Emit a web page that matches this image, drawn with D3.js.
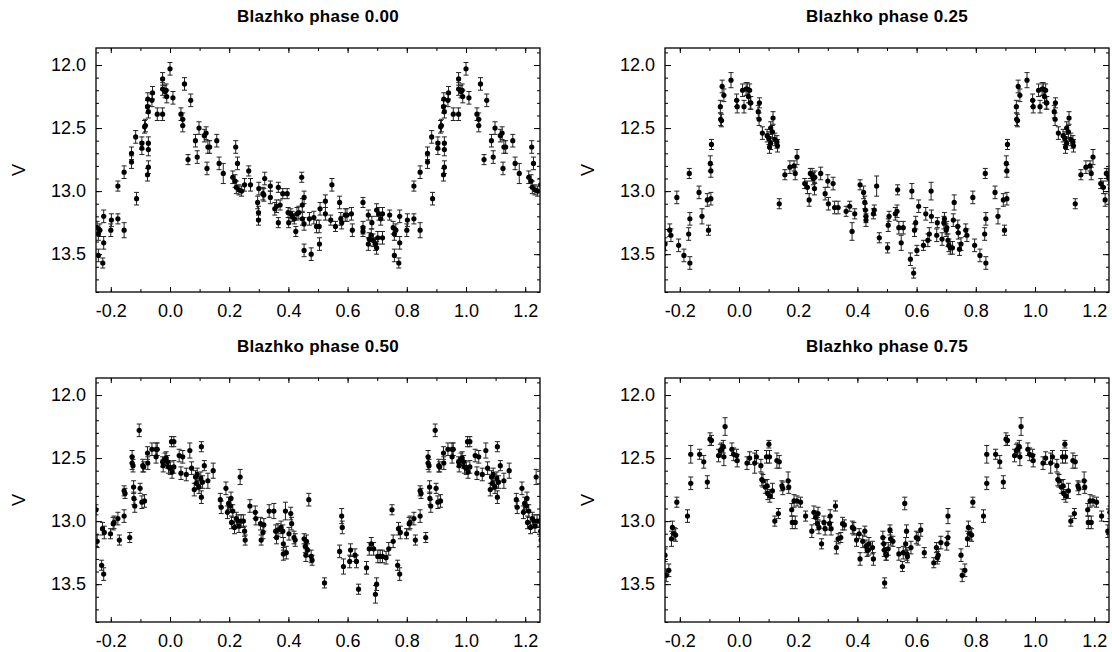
<!DOCTYPE html>
<head>
  <meta charset="utf-8">
  <script src="https://d3js.org/d3.v7.min.js"></script>
</head>
<body>
  <div id="chart"></div>

  <script>
    var width = 1112;
    var height = 652;

    // panel titles
    var titles = ['Blazhko phase 0.00', 'Blazhko phase 0.25', 'Blazhko phase 0.50', 'Blazhko phase 0.75'];

    // tick labels
    var xTicks = [-0.2, 0.0, 0.2, 0.4, 0.6, 0.8, 1.0, 1.2];
    var yTicks = [12.0, 12.5, 13.0, 13.5];

    // [pulsation phase, V, error] ; phases in 0..1, shown again shifted by one cycle
    var p000 = [
      [0.754,13.29,0.05],[0.758,13.34,0.05],[0.763,13.31,0.05],[0.758,13.51,0.05],[0.776,13.41,0.05],
      [0.773,13.57,0.04],[0.776,13.20,0.05],[0.800,13.31,0.05],[0.802,13.23,0.05],[0.824,13.22,0.04],
      [0.845,13.31,0.06],[0.824,12.96,0.04],[0.845,12.85,0.05],[0.870,12.70,0.05],[0.870,12.77,0.05],
      [0.887,13.06,0.05],[0.884,12.57,0.05],[0.905,12.62,0.05],[0.905,12.66,0.05],[0.914,12.49,0.05],
      [0.917,12.48,0.05],[0.924,12.33,0.05],[0.925,12.27,0.05],[0.927,12.37,0.05],[0.927,12.62,0.05],
      [0.927,12.67,0.05],[0.927,12.81,0.05],[0.924,12.87,0.05],[0.939,12.28,0.05],[0.941,12.22,0.05],
      [0.957,12.39,0.05],[0.975,12.11,0.05],[0.975,12.19,0.05],[0.975,12.39,0.05],[0.983,12.21,0.05],
      [0.989,12.25,0.05],[0.987,12.20,0.05],
      [0.000,12.03,0.05],[0.010,12.26,0.05],[0.037,12.39,0.05],[0.043,12.43,0.05],[0.043,12.48,0.05],
      [0.049,12.15,0.05],[0.070,12.28,0.05],[0.061,12.75,0.04],[0.086,12.60,0.05],[0.092,12.73,0.05],
      [0.098,12.50,0.05],[0.116,12.56,0.05],[0.122,12.54,0.05],[0.125,12.82,0.05],[0.128,12.65,0.05],
      [0.134,12.65,0.05],[0.158,12.60,0.05],[0.166,12.78,0.05],[0.180,12.86,0.08],[0.212,12.89,0.05],
      [0.222,12.65,0.05],[0.220,12.92,0.05],[0.228,12.78,0.05],[0.224,12.97,0.05],[0.233,12.99,0.04],
      [0.242,13.00,0.04],[0.252,12.95,0.05],[0.266,12.84,0.04],[0.272,12.95,0.05],[0.296,13.09,0.05],
      [0.299,13.17,0.05],[0.299,13.23,0.04],[0.300,12.98,0.05],[0.314,13.02,0.05],[0.320,12.90,0.05],
      [0.317,13.03,0.05],[0.339,12.96,0.04],[0.339,13.05,0.05],[0.354,13.14,0.05],[0.360,13.12,0.05],
      [0.366,12.97,0.04],[0.366,13.25,0.04],[0.372,13.11,0.04],[0.381,13.02,0.04],[0.396,13.02,0.04],
      [0.399,13.17,0.04],[0.401,13.25,0.04],[0.408,13.18,0.04],[0.413,13.20,0.04],[0.420,13.22,0.04],
      [0.425,13.32,0.04],[0.429,13.18,0.05],[0.435,13.17,0.05],[0.445,12.89,0.04],[0.447,13.11,0.05],
      [0.453,13.05,0.05],[0.453,13.47,0.05],[0.447,13.22,0.05],[0.453,13.26,0.05],[0.477,13.50,0.05],
      [0.471,13.22,0.05],[0.486,13.21,0.05],[0.495,13.28,0.05],[0.504,13.28,0.05],[0.505,13.42,0.05],
      [0.507,13.14,0.05],[0.525,13.08,0.05],[0.525,13.18,0.05],[0.543,13.23,0.04],[0.547,12.95,0.05],
      [0.559,13.28,0.04],[0.573,13.09,0.05],[0.577,13.22,0.05],[0.580,13.25,0.05],[0.592,13.19,0.05],
      [0.598,13.19,0.05],[0.613,13.18,0.05],[0.616,13.31,0.05],[0.652,13.09,0.04],[0.652,13.29,0.05],
      [0.652,13.32,0.04],[0.670,13.42,0.05],[0.670,13.19,0.04],[0.673,13.38,0.05],[0.680,13.35,0.05],
      [0.682,13.25,0.05],[0.686,13.39,0.05],[0.694,13.42,0.05],[0.698,13.15,0.05],[0.698,13.45,0.05],
      [0.702,13.37,0.05],[0.706,13.18,0.05],[0.712,13.22,0.05],[0.718,13.37,0.05],[0.718,13.18,0.05],
      [0.742,13.19,0.04]
    ];

    var p025 = [
      [0.750,13.42,0.05],[0.766,13.31,0.05],[0.770,13.35,0.05],[0.790,13.05,0.05],[0.796,13.43,0.05],
      [0.814,13.51,0.05],[0.832,12.86,0.04],[0.830,13.34,0.05],[0.834,13.22,0.05],[0.834,13.57,0.05],
      [0.865,13.01,0.05],[0.875,13.20,0.06],[0.893,13.07,0.05],[0.897,13.31,0.04],[0.903,12.78,0.06],
      [0.905,12.84,0.05],[0.905,13.06,0.05],[0.907,12.63,0.04],[0.937,12.33,0.05],[0.938,12.43,0.05],
      [0.941,12.44,0.05],[0.943,12.17,0.05],[0.949,12.24,0.05],[0.973,12.12,0.06],[0.992,12.28,0.05],
      [0.994,12.33,0.05],
      [0.012,12.20,0.05],[0.017,12.33,0.05],[0.024,12.19,0.05],[0.028,12.19,0.05],[0.032,12.25,0.05],
      [0.036,12.20,0.05],[0.038,12.30,0.05],[0.040,12.30,0.05],[0.065,12.37,0.05],[0.068,12.43,0.05],
      [0.069,12.30,0.04],[0.079,12.54,0.05],[0.095,12.56,0.05],[0.101,12.58,0.05],[0.103,12.65,0.05],
      [0.107,12.62,0.05],[0.107,12.50,0.05],[0.113,12.53,0.05],[0.115,12.42,0.05],[0.121,12.59,0.05],
      [0.128,12.61,0.05],[0.130,12.64,0.05],[0.136,13.10,0.04],[0.155,12.87,0.04],[0.172,12.81,0.05],
      [0.186,12.80,0.04],[0.190,12.86,0.05],[0.196,12.73,0.06],[0.222,12.94,0.04],[0.231,12.97,0.05],
      [0.237,13.07,0.05],[0.241,12.86,0.04],[0.247,12.87,0.05],[0.251,12.90,0.05],[0.255,12.98,0.05],
      [0.256,12.89,0.05],[0.276,12.86,0.05],[0.291,13.02,0.05],[0.300,12.92,0.05],[0.302,13.10,0.05],
      [0.318,12.94,0.05],[0.323,13.13,0.05],[0.335,13.13,0.05],[0.362,13.16,0.04],[0.374,13.12,0.04],
      [0.382,13.32,0.07],[0.391,13.18,0.04],[0.409,12.95,0.04],[0.421,13.01,0.05],[0.425,13.09,0.05],
      [0.427,13.15,0.05],[0.429,13.20,0.05],[0.429,13.23,0.05],[0.454,13.18,0.04],[0.457,13.15,0.04],
      [0.465,12.96,0.08],[0.474,13.37,0.04],[0.502,13.45,0.04],[0.504,13.27,0.05],[0.507,13.20,0.04],
      [0.528,13.18,0.05],[0.534,13.16,0.05],[0.536,12.99,0.04],[0.540,13.29,0.05],[0.548,13.41,0.06],
      [0.555,13.29,0.05],[0.579,13.54,0.05],[0.584,13.00,0.06],[0.590,13.65,0.04],[0.593,13.31,0.05],
      [0.597,13.25,0.05],[0.601,13.47,0.04],[0.607,13.12,0.05],[0.623,13.43,0.04],[0.631,13.18,0.05],
      [0.638,13.39,0.05],[0.643,13.34,0.05],[0.649,13.00,0.07],[0.650,13.20,0.05],[0.668,13.35,0.05],
      [0.670,13.25,0.04],[0.686,13.38,0.05],[0.692,13.25,0.05],[0.694,13.22,0.05],[0.700,13.31,0.05],
      [0.702,13.29,0.05],[0.706,13.39,0.05],[0.709,13.43,0.05],[0.714,13.45,0.05],[0.721,13.45,0.05],
      [0.724,13.23,0.05],[0.727,13.09,0.06],[0.739,13.28,0.05],[0.741,13.33,0.05],[0.745,13.46,0.05]
    ];

    var p050 = [
      [0.750,12.91,0.04],[0.754,13.16,0.05],[0.769,13.35,0.04],[0.776,13.42,0.05],[0.772,13.06,0.05],
      [0.778,13.09,0.05],[0.799,13.10,0.04],[0.808,13.02,0.05],[0.811,13.01,0.05],[0.824,12.98,0.05],
      [0.829,13.15,0.04],[0.845,12.96,0.05],[0.845,12.76,0.04],[0.848,12.78,0.04],[0.864,13.13,0.04],
      [0.872,12.49,0.05],[0.872,12.54,0.05],[0.875,12.56,0.05],[0.877,12.73,0.05],[0.878,12.82,0.05],
      [0.881,12.88,0.05],[0.896,12.28,0.05],[0.899,12.74,0.04],[0.905,12.85,0.05],[0.908,12.56,0.05],
      [0.911,12.57,0.04],[0.914,12.84,0.05],[0.924,12.46,0.05],[0.925,12.54,0.05],[0.939,12.43,0.05],
      [0.953,12.43,0.05],[0.953,12.49,0.05],[0.957,12.43,0.05],[0.975,12.53,0.04],[0.977,12.56,0.05],
      [0.983,12.51,0.05],[0.987,12.50,0.05],[0.992,12.53,0.05],[0.995,12.57,0.05],
      [0.001,12.58,0.05],[0.005,12.37,0.04],[0.007,12.61,0.05],[0.013,12.37,0.04],[0.013,12.57,0.05],
      [0.031,12.48,0.05],[0.037,12.62,0.05],[0.043,12.49,0.05],[0.055,12.63,0.05],[0.067,12.44,0.06],
      [0.073,12.58,0.05],[0.082,12.75,0.05],[0.086,12.65,0.05],[0.089,12.70,0.05],[0.092,12.63,0.05],
      [0.098,12.73,0.05],[0.104,12.66,0.05],[0.106,12.41,0.04],[0.106,12.81,0.05],[0.110,12.69,0.05],
      [0.116,12.56,0.04],[0.128,12.68,0.06],[0.146,12.60,0.06],[0.170,12.83,0.05],[0.173,12.89,0.05],
      [0.189,12.74,0.05],[0.194,12.93,0.05],[0.198,12.86,0.05],[0.204,12.88,0.05],[0.206,12.82,0.05],
      [0.208,13.01,0.05],[0.212,12.92,0.05],[0.218,13.05,0.05],[0.224,12.98,0.05],[0.230,13.00,0.05],
      [0.233,13.04,0.05],[0.237,12.65,0.06],[0.240,13.00,0.05],[0.248,13.00,0.05],[0.252,13.08,0.04],
      [0.254,13.15,0.04],[0.270,12.88,0.05],[0.288,12.93,0.05],[0.290,12.98,0.05],[0.306,13.02,0.05],
      [0.308,13.15,0.04],[0.314,13.09,0.05],[0.317,13.03,0.05],[0.335,12.92,0.05],[0.351,12.92,0.06],
      [0.357,13.08,0.05],[0.360,13.13,0.05],[0.365,13.07,0.05],[0.375,13.05,0.05],[0.381,13.08,0.05],
      [0.383,13.18,0.05],[0.383,13.26,0.05],[0.390,12.92,0.07],[0.393,13.25,0.05],[0.402,13.10,0.05],
      [0.408,12.94,0.05],[0.411,13.02,0.05],[0.419,13.13,0.05],[0.423,13.15,0.05],[0.453,13.14,0.04],
      [0.457,13.20,0.05],[0.459,13.27,0.05],[0.461,13.16,0.05],[0.465,13.23,0.05],[0.469,12.83,0.05],
      [0.477,13.28,0.05],[0.480,13.31,0.04],[0.522,13.49,0.04],[0.573,13.24,0.05],[0.580,12.96,0.06],
      [0.582,13.05,0.05],[0.586,13.36,0.06],[0.607,13.32,0.05],[0.610,13.23,0.05],[0.625,13.27,0.05],
      [0.630,13.32,0.05],[0.637,13.54,0.04],[0.664,13.37,0.05],[0.673,13.22,0.05],[0.680,13.18,0.05],
      [0.688,13.22,0.05],[0.694,13.58,0.07],[0.698,13.50,0.05],[0.702,13.28,0.05],[0.710,13.28,0.05],
      [0.718,13.28,0.05],[0.730,13.29,0.05],[0.739,13.22,0.05]
    ];

    var p075 = [
      [0.750,13.27,0.05],[0.754,13.43,0.05],[0.763,13.39,0.05],[0.772,13.14,0.06],[0.775,13.05,0.05],
      [0.781,13.10,0.05],[0.786,13.11,0.05],[0.790,12.85,0.04],[0.826,12.96,0.05],[0.837,12.47,0.07],
      [0.837,12.70,0.05],[0.867,12.47,0.04],[0.881,12.53,0.05],[0.893,12.69,0.05],[0.902,12.35,0.05],
      [0.907,12.36,0.04],[0.931,12.48,0.05],[0.937,12.44,0.05],[0.941,12.43,0.05],[0.947,12.41,0.05],
      [0.949,12.49,0.07],[0.953,12.25,0.07],[0.976,12.43,0.05],[0.982,12.47,0.05],[0.992,12.48,0.05],
      [0.994,12.52,0.05],
      [0.027,12.54,0.05],[0.036,12.50,0.05],[0.053,12.54,0.08],[0.059,12.49,0.05],[0.074,12.56,0.05],
      [0.077,12.67,0.05],[0.081,12.68,0.05],[0.089,12.73,0.05],[0.093,12.49,0.05],[0.095,12.72,0.05],
      [0.097,12.78,0.05],[0.101,12.39,0.03],[0.103,12.49,0.05],[0.104,12.80,0.05],[0.113,12.76,0.06],
      [0.121,13.00,0.04],[0.128,12.52,0.06],[0.133,12.94,0.04],[0.136,12.53,0.05],[0.145,12.72,0.04],
      [0.148,12.74,0.05],[0.166,12.68,0.07],[0.168,12.73,0.05],[0.178,12.91,0.05],[0.180,13.01,0.05],
      [0.186,12.84,0.05],[0.190,13.01,0.05],[0.196,12.84,0.04],[0.208,12.85,0.04],[0.225,12.96,0.04],
      [0.246,13.08,0.05],[0.253,12.93,0.05],[0.259,12.97,0.05],[0.265,13.02,0.05],[0.267,12.94,0.05],
      [0.270,13.05,0.05],[0.279,13.18,0.04],[0.287,13.01,0.05],[0.291,13.06,0.05],[0.306,13.02,0.05],
      [0.308,12.96,0.05],[0.311,13.06,0.05],[0.326,12.88,0.04],[0.329,13.21,0.05],[0.335,13.14,0.04],
      [0.344,13.13,0.04],[0.350,13.02,0.05],[0.356,13.03,0.04],[0.383,13.05,0.05],[0.388,13.06,0.05],
      [0.397,13.15,0.05],[0.406,13.10,0.04],[0.409,13.30,0.05],[0.418,13.16,0.05],[0.425,13.08,0.04],
      [0.429,13.20,0.05],[0.433,13.23,0.05],[0.437,13.23,0.04],[0.439,13.18,0.05],[0.451,13.21,0.05],
      [0.454,13.30,0.05],[0.486,13.13,0.05],[0.489,13.18,0.05],[0.491,13.23,0.05],[0.492,13.49,0.04],
      [0.496,13.26,0.05],[0.498,13.27,0.04],[0.504,13.22,0.05],[0.510,13.07,0.04],[0.512,13.14,0.05],
      [0.520,13.16,0.04],[0.540,13.26,0.05],[0.552,13.36,0.04],[0.555,13.25,0.05],[0.560,12.86,0.05],
      [0.563,13.18,0.05],[0.566,13.08,0.05],[0.567,13.26,0.05],[0.569,13.28,0.05],[0.581,13.21,0.05],
      [0.599,13.13,0.05],[0.605,13.14,0.05],[0.614,13.07,0.05],[0.626,13.25,0.04],[0.658,13.33,0.04],
      [0.667,13.21,0.04],[0.670,13.29,0.05],[0.673,13.27,0.05],[0.682,13.17,0.05],[0.702,13.18,0.05],
      [0.706,13.13,0.05],[0.706,12.96,0.06]
    ];

    var series = [p000, p025, p050, p075];

    var panelW = 444, panelH = 244;
    var origins = [[96, 48], [665, 48], [96, 378], [665, 378]];

    var x = d3.scaleLinear().domain([-0.25, 1.25]).range([0, panelW]);
    var y = d3.scaleLinear().domain([11.865, 13.8]).range([0, panelH]);

    var svg = d3.select('#chart')
      .append('svg')
        .attr('width', width)
        .attr('height', height);

    var xMinor = d3.range(-0.2, 1.25, 0.1).map(d => Math.round(d * 10) / 10);
    var yMinor = d3.range(11.9, 13.8, 0.1).map(d => Math.round(d * 10) / 10);
    var fmt = d => d.toFixed(1);   // plain hyphen for negatives

    function draw_panel(i) {
      var g = svg.append('g')
        .attr('transform', 'translate(' + origins[i][0] + ',' + origins[i][1] + ')');

      g.append('clipPath').attr('id', 'clip' + i)
        .append('rect').attr('width', panelW).attr('height', panelH);

      // fold: each point drawn at phase-1, phase, phase+1 when inside the window
      var pts = [];
      series[i].forEach(function(d) {
        [-1, 0, 1].forEach(function(k) {
          var ph = d[0] + k;
          if (ph >= -0.27 && ph <= 1.27) pts.push({ph: ph, v: d[1], e: d[2]});
        });
      });

      var marks = g.append('g').attr('clip-path', 'url(#clip' + i + ')');

      marks.selectAll('path.err')
        .data(pts)
        .join('path')
          .attr('class', 'err')
          .attr('d', function(d) {
            var cx = x(d.ph), y1 = y(d.v - d.e), y2 = y(d.v + d.e);
            return 'M' + cx + ',' + y1 + 'V' + y2 +
              'M' + (cx - 2.5) + ',' + y1 + 'H' + (cx + 2.5) +
              'M' + (cx - 2.5) + ',' + y2 + 'H' + (cx + 2.5);
          })
          .attr('stroke', '#222')
          .attr('stroke-width', 1)
          .attr('fill', 'none');

      marks.selectAll('circle')
        .data(pts)
        .join('circle')
          .attr('cx', d => x(d.ph))
          .attr('cy', d => y(d.v))
          .attr('r', 2.6)
          .attr('fill', '#000');

      // axes, ticks inward on all four sides
      g.append('g').attr('class', 'axis').attr('transform', 'translate(0,' + panelH + ')')
        .call(d3.axisBottom(x).tickValues(xTicks).tickSize(-5).tickPadding(12).tickFormat(fmt));
      g.append('g').attr('class', 'axis').attr('transform', 'translate(0,' + panelH + ')')
        .call(d3.axisBottom(x).tickValues(xMinor).tickSize(-3).tickFormat(''));
      g.append('g').attr('class', 'axis')
        .call(d3.axisTop(x).tickValues(xTicks).tickSize(-5).tickFormat(''));
      g.append('g').attr('class', 'axis')
        .call(d3.axisTop(x).tickValues(xMinor).tickSize(-3).tickFormat(''));

      g.append('g').attr('class', 'axis')
        .call(d3.axisLeft(y).tickValues(yTicks).tickSize(-6).tickPadding(10).tickFormat(fmt));
      g.append('g').attr('class', 'axis')
        .call(d3.axisLeft(y).tickValues(yMinor).tickSize(-3).tickFormat(''));
      g.append('g').attr('class', 'axis').attr('transform', 'translate(' + panelW + ',0)')
        .call(d3.axisRight(y).tickValues(yTicks).tickSize(-6).tickFormat(''));
      g.append('g').attr('class', 'axis').attr('transform', 'translate(' + panelW + ',0)')
        .call(d3.axisRight(y).tickValues(yMinor).tickSize(-3).tickFormat(''));

      g.selectAll('.axis .domain').remove();

      g.append('rect')
        .attr('width', panelW).attr('height', panelH)
        .attr('fill', 'none').attr('stroke', '#000').attr('stroke-width', 1.3);

      g.append('text')
        .attr('class', 'title')
        .attr('x', panelW / 2).attr('y', -26)
        .attr('text-anchor', 'middle')
        .text(titles[i]);

      g.append('text')
        .attr('class', 'ylabel')
        .attr('transform', 'translate(' + (-71) + ',' + (panelH / 2) + ') rotate(-90)')
        .attr('text-anchor', 'middle')
        .text('V');
    }

    for (var i = 0; i < 4; i++) draw_panel(i);
  </script>
</body>

<style>
  body {
    margin: 0;
    background: #fff;
  }
  svg text {
    font-family: 'Liberation Sans', Arial, sans-serif;
  }
  .axis text {
    font-size: 18px;
    fill: #000;
  }
  .axis line {
    stroke: #000;
    stroke-width: 1;
  }
  .title {
    font-size: 17px;
    font-weight: bold;
    letter-spacing: 0.3px;
  }
  .ylabel {
    font-size: 18px;
  }
</style>
